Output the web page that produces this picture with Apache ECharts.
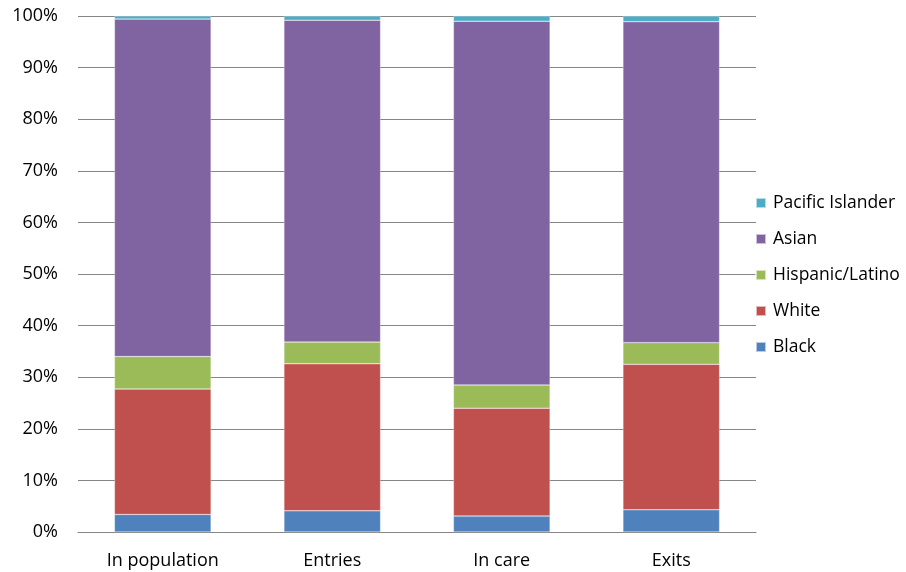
<!DOCTYPE html>
<html><head><meta charset="utf-8">
<script src="https://cdn.jsdelivr.net/npm/echarts@6/dist/echarts.min.js"></script>
<style>html,body{margin:0;padding:0;background:#fff}#c{width:906px;height:572px}</style>
</head><body><div id="c"></div>
<script>
var categories = ['In population', 'Entries', 'In care', 'Exits'];
var black = [3.4, 4.1, 3.1, 4.3];
var white = [24.3, 28.5, 20.9, 28.2];
var hispanic = [6.3, 4.2, 4.5, 4.2];
var asian = [65.4, 62.4, 70.5, 62.2];
var pacific = [0.6, 0.8, 1.0, 1.1];
var yTicks = [0, 10, 20, 30, 40, 50, 60, 70, 80, 90, 100];

var FONT = 'Open Sans';
function s(name, data, color) {
  return { name: name, type: 'bar', stack: 'all', data: data, barCategoryGap: '43%',
    itemStyle: { color: color, borderColor: 'rgba(255,255,255,0.6)', borderWidth: 0.5 } };
}
var chart = echarts.init(document.getElementById('c'), null, { renderer: 'canvas' });
chart.setOption({
  animation: false,
  textStyle: { fontFamily: FONT },
  grid: { left: 78, right: 150, top: 16, bottom: 40, containLabel: false },
  legend: {
    orient: 'vertical', left: 750, top: 189,
    data: ['Pacific Islander', 'Asian', 'Hispanic/Latino', 'White', 'Black'],
    itemWidth: 10, itemHeight: 10, itemGap: 18, icon: 'rect',
    textStyle: { fontFamily: FONT, fontSize: 17.5, color: '#000', lineHeight: 18, padding: [0, 0, 0, 2] }
  },
  xAxis: {
    type: 'category', data: categories,
    axisLine: { lineStyle: { color: '#868686', width: 1 } },
    axisTick: { show: false },
    axisLabel: { fontFamily: FONT, fontSize: 18, color: '#000', margin: 20 }
  },
  yAxis: {
    type: 'value', min: 0, max: 100, interval: 10,
    axisLine: { show: false }, axisTick: { show: false },
    splitLine: { lineStyle: { color: '#868686', width: 1 } },
    axisLabel: { fontFamily: FONT, fontSize: 18, color: '#000', margin: 20,
      formatter: function (v) { return yTicks.indexOf(v) >= 0 ? v + '%' : ''; } }
  },
  series: [
    s('Black', black, '#4F81BD'),
    s('White', white, '#C0504D'),
    s('Hispanic/Latino', hispanic, '#9BBB59'),
    s('Asian', asian, '#8064A2'),
    s('Pacific Islander', pacific, '#4BACC6')
  ]
});
</script></body></html>
